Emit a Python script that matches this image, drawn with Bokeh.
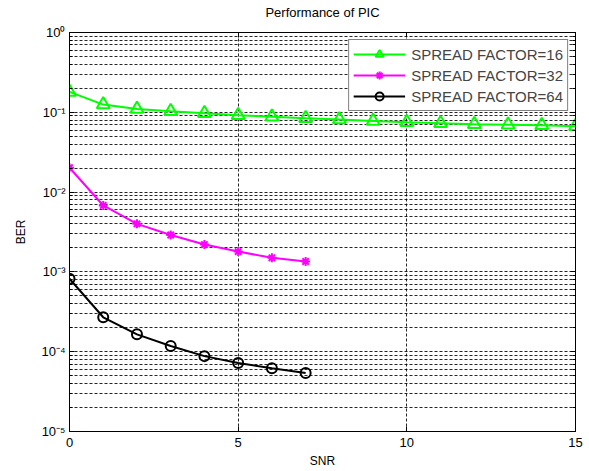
from bokeh.plotting import figure
from bokeh.models import FixedTicker, Legend, LegendItem, LinearAxis, LogAxis
from bokeh.embed import file_html
from bokeh.resources import INLINE

# ---- data ----
snr16 = [0, 1, 2, 3, 4, 5, 6, 7, 8, 9, 10, 11, 12, 13, 14, 15]
ber16 = [0.18, 0.125, 0.11, 0.103, 0.097, 0.092, 0.088, 0.084, 0.081, 0.078,
         0.075, 0.073, 0.071, 0.070, 0.069, 0.067]
snr32 = [0, 1, 2, 3, 4, 5, 6, 7]
ber32 = [0.0202, 0.0068, 0.0040, 0.0029, 0.0022, 0.0018, 0.0015, 0.00135]
snr64 = [0, 1, 2, 3, 4, 5, 6, 7]
ber64 = [0.00082, 0.00027, 0.000165, 0.000118, 0.000088, 0.000072, 0.000062, 0.000054]

title_text = "Performance of PIC"
labels = ["SPREAD FACTOR=16", "SPREAD FACTOR=32", "SPREAD FACTOR=64"]
x_ticks = [0, 5, 10, 15]
y_ticks = [1e-5, 1e-4, 1e-3, 1e-2, 1e-1, 1.0]
y_tick_labels = ["10\u207b\u2075", "10\u207b\u2074", "10\u207b\u00b3", "10\u207b\u00b2", "10\u207b\u00b9", "10\u2070"]
y_minor = [k * 10.0 ** e for e in range(-5, 0) for k in range(2, 10)]

FONT = "Liberation Sans"

p = figure(width=589, height=471, y_axis_type="log",
           x_range=(0, 15), y_range=(1e-5, 1.0),
           output_backend="svg", toolbar_location=None,
           min_border_left=69, min_border_right=14, min_border_top=32, min_border_bottom=40)

p.outline_line_color = "black"
p.outline_line_width = 1

bottom_axis = p.below[0]
left_axis = p.left[0]

# top axis: inward ticks, hidden tick labels, title as its axis label
top_axis = LinearAxis(ticker=FixedTicker(ticks=x_ticks), axis_label=title_text)
p.add_layout(top_axis, "above")

# right axis: inward ticks, hidden tick labels
right_axis = LogAxis(ticker=FixedTicker(ticks=y_ticks, minor_ticks=y_minor))
p.add_layout(right_axis, "right")

for ax in (top_axis, right_axis):
    ax.major_label_text_font_size = "1px"
    ax.major_label_text_color = None
    ax.major_label_standoff = 0

bottom_axis.ticker = FixedTicker(ticks=x_ticks)
left_axis.ticker = FixedTicker(ticks=y_ticks, minor_ticks=y_minor)
left_axis.major_label_overrides = {v: s for v, s in zip(y_ticks, y_tick_labels)}

for ax in (bottom_axis, left_axis, top_axis, right_axis):
    ax.major_label_text_font = FONT
    ax.axis_line_color = "black"
    ax.major_tick_line_color = "black"
    ax.minor_tick_line_color = "black"
    ax.major_tick_in = 5
    ax.major_tick_out = 0
    ax.minor_tick_in = 3
    ax.minor_tick_out = 0
    ax.axis_label_text_font = FONT
    ax.axis_label_text_font_style = "normal"
    ax.axis_label_text_color = "black"
for ax in (bottom_axis, left_axis):
    ax.major_label_text_font_size = "13px"
    ax.major_label_text_color = "black"

top_axis.axis_label_text_font_size = "13px"
top_axis.axis_label_standoff = 13

bottom_axis.axis_label = "SNR"
left_axis.axis_label = "BER"
bottom_axis.axis_label_text_font_size = "12px"
left_axis.axis_label_text_font_size = "12px"
bottom_axis.major_label_standoff = 6
bottom_axis.axis_label_standoff = 4
left_axis.major_label_standoff = 4
left_axis.axis_label_standoff = 10

# grid
p.xgrid.ticker = FixedTicker(ticks=x_ticks)
p.ygrid.ticker = FixedTicker(ticks=y_ticks, minor_ticks=y_minor)
for g in (p.xgrid, p.ygrid):
    g.grid_line_color = "black"
    g.grid_line_dash = "3 2"
    g.grid_line_width = 1
    g.grid_line_alpha = 0.85
p.ygrid.minor_grid_line_color = "black"
p.ygrid.minor_grid_line_dash = "3 2"
p.ygrid.minor_grid_line_alpha = 0.85

# series
l1 = p.line(snr16, ber16, line_color="#00ff00", line_width=2)
m1 = p.scatter(snr16, ber16, marker="triangle", size=13, fill_color=None,
               line_color="#00ff00", line_width=2)
l2 = p.line(snr32, ber32, line_color="#ff00ff", line_width=2)
m2 = p.scatter(snr32, ber32, marker="asterisk", size=9,
               line_color="#ff00ff", line_width=2)
l3 = p.line(snr64, ber64, line_color="black", line_width=2)
m3 = p.scatter(snr64, ber64, marker="circle", size=10, fill_color=None,
               line_color="black", line_width=2)

legend = Legend(items=[LegendItem(label=labels[0], renderers=[l1, m1]),
                       LegendItem(label=labels[1], renderers=[l2, m2]),
                       LegendItem(label=labels[2], renderers=[l3, m3])],
                location="top_right")
legend.border_line_color = "black"
legend.border_line_width = 1
legend.label_text_font = FONT
legend.label_text_font_size = "15px"
legend.glyph_width = 52
legend.glyph_height = 20
legend.label_height = 20
legend.spacing = 1
legend.padding = 4
legend.margin = 7
legend.label_standoff = 6
legend.background_fill_alpha = 1
p.add_layout(legend)

open("out.html", "w").write(file_html(p, INLINE))
